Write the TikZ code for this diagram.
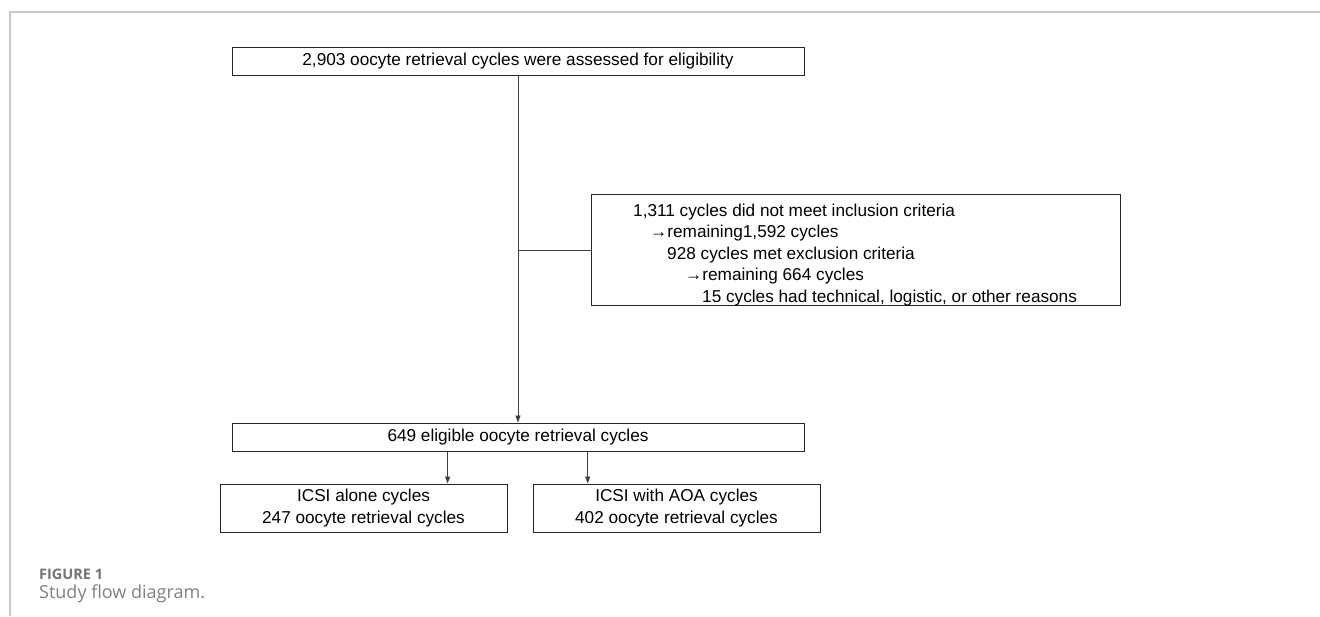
\documentclass[tikz,border=0pt]{standalone}
\usepackage{fontspec}
\setmainfont{Liberation Sans}
\newfontfamily\capfont{Open Sans}
\usetikzlibrary{arrows.meta}
\tikzset{
  box/.style={draw=black!85, line width=1pt, inner sep=0pt, font=\fontsize{17.2}{21.5}\selectfont},
  conn/.style={draw=black!75, line width=0.9pt},
  arr/.style={conn, -{Triangle[length=7pt,width=5pt]}},
  frameline/.style={draw=black!22, line width=1.5pt},
}
\begin{document}
\begin{tikzpicture}[x=1pt,y=-1pt]
\useasboundingbox (0,0) rectangle (1320,616);
\draw[frameline] (10,616) -- (10,12) -- (1320,12);

\node[box, minimum width=572, minimum height=28] (assess) at (518,61.5)
  {2,903 oocyte retrieval cycles were assessed for eligibility};

\node[box, minimum width=529, minimum height=111] (excl) at (855.5,249.5) {};
\node[anchor=north west, inner sep=0pt, align=left, font=\fontsize{17.2}{21.5}\selectfont] (excltext) at (633,203.5)
  {1,311 cycles did not meet inclusion criteria\\
   \hspace*{17pt}→remaining1,592 cycles\\
   \hspace*{34pt}928 cycles met exclusion criteria\\
   \hspace*{52pt}→remaining 664 cycles\\
   \hspace*{69pt}15 cycles had technical, logistic, or other reasons};

\node[box, minimum width=572, minimum height=28] (elig) at (518,437)
  {649 eligible oocyte retrieval cycles};

\node[box, minimum width=287, minimum height=48, align=center] (alone) at (363.5,508)
  {ICSI alone cycles\\247 oocyte retrieval cycles};
\node[box, minimum width=287, minimum height=48, align=center] (aoa) at (676.5,508)
  {ICSI with AOA cycles\\402 oocyte retrieval cycles};

\coordinate (branch) at (518,250);
\coordinate (a1) at (447.6,0);
\coordinate (a2) at (587.7,0);

\draw[arr] (assess.south) -- (elig.north);
\draw[conn] (branch) -- (excl.west |- branch);
\draw[arr] (elig.south -| a1) -- (alone.north -| a1);
\draw[arr] (elig.south -| a2) -- (aoa.north -| a2);

\node[anchor=base west, inner sep=0pt, text=black!55, font=\capfont\bfseries\fontsize{14.5}{15}\selectfont] (figlabel) at (39,579) {FIGURE 1};
\node[anchor=base west, inner sep=0pt, text=black!50, font=\capfont\fontsize{18}{20}\selectfont] (caption) at (39,598) {Study flow diagram.};
\end{tikzpicture}
\end{document}
